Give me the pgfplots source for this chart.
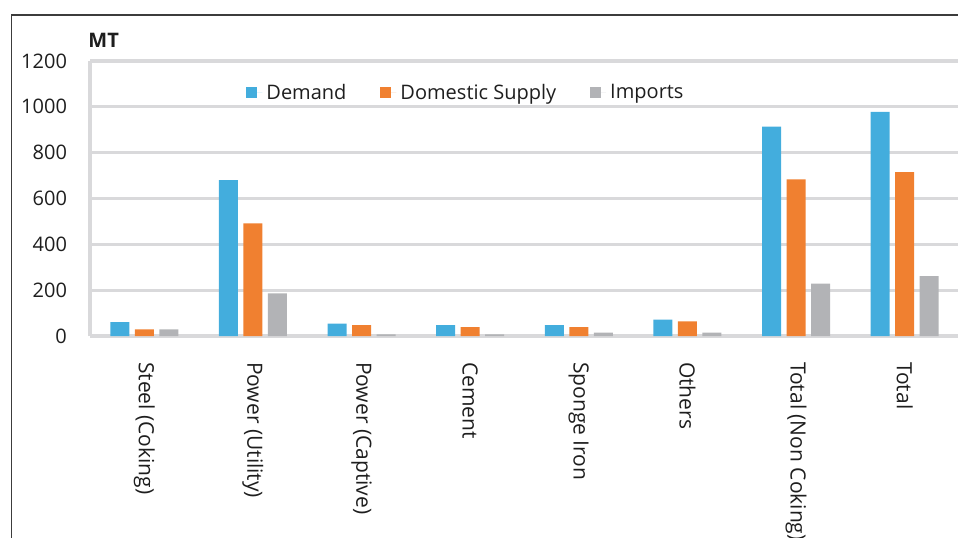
\documentclass[border=0pt]{standalone}
\usepackage{fontspec}
\setmainfont{Open Sans}
\usepackage{pgfplots}
\pgfplotsset{compat=1.18}
\definecolor{cDem}{RGB}{67,173,221}
\definecolor{cDom}{RGB}{240,128,48}
\definecolor{cImp}{RGB}{178,179,182}
\definecolor{gridgray}{RGB}{217,217,219}
\definecolor{framegray}{RGB}{60,60,60}
\definecolor{txt}{RGB}{30,30,30}
\begin{document}
\fontsize{10}{12}\selectfont
\begin{tikzpicture}
\pgfplotsset{sqleg/.style={legend image code/.code={\fill[##1] (0pt,-2.75pt) rectangle (5.5pt,2.75pt); \path (0pt,0pt) -- (8pt,0pt);}}}
\begin{axis}[
  at={(45pt,100.5pt)}, anchor=south west,
  scale only axis, width=434.5pt, height=137.5pt,
  xmin=-0.5, xmax=7.5, ymin=0, ymax=1200,
  ybar=2.75pt, bar width=9.5pt,
  xtick={0,...,7},
  xticklabels={Steel (Coking),Power (Utility),Power (Captive),Cement,Sponge Iron,Others,Total (Non Coking),Total},
  ytick={0,200,...,1200},
  ymajorgrids,
  grid style={line width=1.6pt, color=gridgray},
  axis x line*=bottom, axis y line*=left,
  axis line style={line width=1.6pt, color=gridgray, -},
  major tick length=0pt,
  tick style={draw=none},
  /pgf/number format/assume math mode=true,
  /pgf/number format/1000 sep={},
  yticklabel style={font=\fontsize{10}{12}\selectfont, text=txt, xshift=-8pt},
  xticklabel style={rotate=-90, anchor=west, font=\fontsize{10.5}{12}\selectfont, text=txt},
  xticklabel shift=9.5pt,
  legend style={at={(0.4338,0.884)}, anchor=center, draw=none, fill=none,
    legend columns=3, font=\fontsize{10}{12}\selectfont, text=txt,
    /tikz/every even column/.append style={column sep=15pt}},
]
\addplot[fill=cDem, draw=none, sqleg] coordinates {(0,61) (1,680) (2,54) (3,47) (4,47) (5,72) (6,914) (7,978)};
\addplot[fill=cDom, draw=none, sqleg] coordinates {(0,29) (1,492) (2,47) (3,39) (4,39) (5,64) (6,683) (7,715)};
\addplot[fill=cImp, draw=none, sqleg] coordinates {(0,29) (1,186) (2,7) (3,7) (4,15) (5,15) (6,229) (7,261)};
\legend{Demand, Domestic Supply, Imports}
\end{axis}
\node[anchor=west, font=\bfseries\fontsize{10}{12}\selectfont, text=txt, inner sep=0pt] at (44pt,248.5pt) {MT};
\draw[framegray, line width=0.7pt] (5.75pt,-5pt) -- (5.75pt,261pt) -- (490pt,261pt);
\pgfresetboundingbox
\path[use as bounding box] (0,0) rectangle (479pt,268.5pt);
\end{tikzpicture}
\end{document}
